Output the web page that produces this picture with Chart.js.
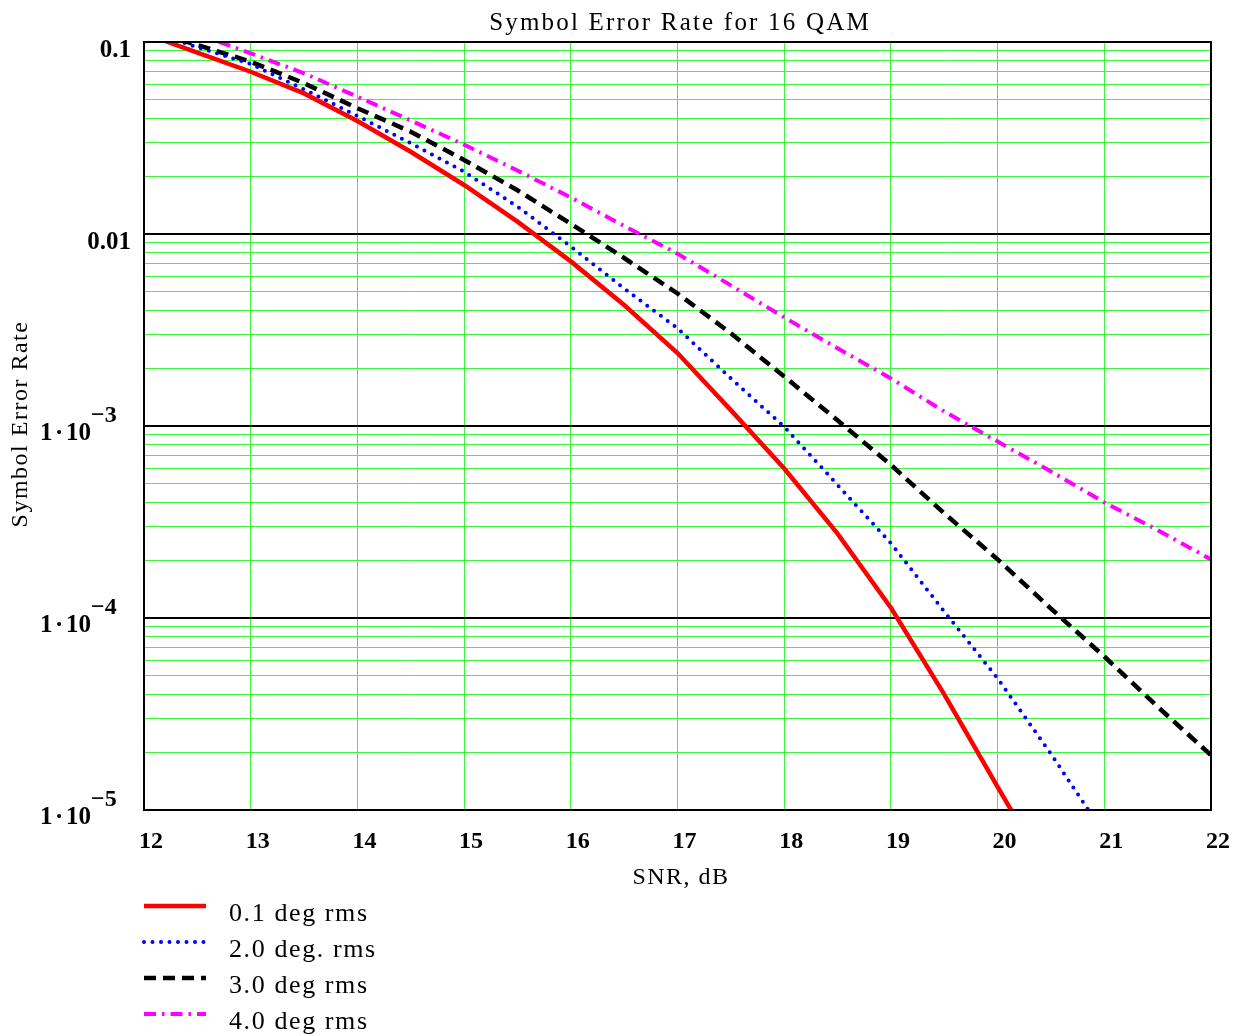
<!DOCTYPE html>
<html>
<head>
<meta charset="utf-8">
<title>Symbol Error Rate for 16 QAM</title>
<script src="https://cdn.jsdelivr.net/npm/chart.js@4.4.1/dist/chart.umd.min.js"></script>
<style>
  body { margin: 0; background: #fff; }
  canvas { display: block; }
</style>
</head>
<body>
<canvas id="serChart" width="1238" height="1036"></canvas>
<script>
// SNR sample points, dB
const snrDb = [12, 12.5, 13, 13.5, 14, 14.5, 15, 15.5, 16, 16.5, 17, 17.5, 18, 18.5, 19, 19.5, 20, 20.5, 21, 21.5, 22];

// symbol error rate for each phase noise level (same SNR order, shorter ones stop below the axis)
const ser01 = [0.111, 0.088, 0.070, 0.054, 0.0388, 0.0268, 0.0180, 0.0116, 0.0072, 0.00427, 0.0024, 0.00121, 6.0e-4, 2.75e-4, 1.13e-4, 4.0e-5, 1.32e-5, 4.4e-6];
const ser20 = [0.115, 0.094, 0.0768, 0.0567, 0.0412, 0.0297, 0.0211, 0.0139, 0.0086, 0.0052, 0.00323, 0.00177, 9.9e-4, 4.93e-4, 2.45e-4, 1.08e-4, 4.85e-5, 1.96e-5, 7.5e-6];
const ser30 = [0.117, 0.0965, 0.079, 0.061, 0.0452, 0.0341, 0.0243, 0.0169, 0.0113, 0.0075, 0.0049, 0.00304, 0.00181, 1.07e-3, 6.27e-4, 3.51e-4, 2.02e-4, 1.12e-4, 6.3e-5, 3.45e-5, 1.93e-5];
const ser40 = [0.138, 0.110, 0.0873, 0.0687, 0.0519, 0.0390, 0.0292, 0.0214, 0.0155, 0.0110, 0.0079, 0.0054, 0.00368, 0.00254, 0.00177, 0.00119, 8.3e-4, 5.8e-4, 4.0e-4, 2.87e-4, 2.02e-4];

const seriesNames = ['0.1 deg rms', '2.0 deg. rms', '3.0 deg rms', '4.0 deg rms'];

// axis ticks
const xTicks = [12, 13, 14, 15, 16, 17, 18, 19, 20, 21, 22];
const yDecades = [0.1, 0.01, 1e-3, 1e-4, 1e-5];
const yMantissa = ['0.1', '0.01', '1·10', '1·10', '1·10'];
const yExponent = ['', '', '−3', '−4', '−5'];

const serif = '"Liberation Serif", "Times New Roman", serif';
const green = '#3cf53c';

const toPoints = vals => vals.map((v, i) => ({ x: snrDb[i], y: v }));
const isDecade = v => Math.abs(Math.log10(v) - Math.round(Math.log10(v))) < 1e-6;

// decades plus 2..9 minor lines in between
function buildLogTicks(scale) {
  const ticks = [];
  yDecades.forEach(d => {
    ticks.push({ value: d });
    if (d < 0.1) {
      for (let m = 2; m <= 9; m++) ticks.push({ value: m * d });
    }
  });
  scale.ticks = ticks.sort((a, b) => a.value - b.value);
}

function withSpacing(ctx, px, fn) {
  const had = 'letterSpacing' in ctx;
  if (had) ctx.letterSpacing = px + 'px';
  fn();
  if (had) ctx.letterSpacing = '0px';
}

// frame, titles, tick labels and the legend block under the plot
const decorations = {
  id: 'decorations',
  afterDraw(chart) {
    const ctx = chart.ctx;
    const area = chart.chartArea;
    const xs = chart.scales.x;
    const ys = chart.scales.y;
    ctx.save();

    ctx.strokeStyle = '#000';
    ctx.lineWidth = 2;
    ctx.strokeRect(area.left, area.top, area.right - area.left, area.bottom - area.top);

    ctx.fillStyle = '#000';
    ctx.textBaseline = 'alphabetic';

    // title
    ctx.font = '25px ' + serif;
    ctx.textAlign = 'center';
    withSpacing(ctx, 2.2, () => ctx.fillText('Symbol Error Rate for 16 QAM', 680, 30));

    // axis titles
    ctx.font = '24px ' + serif;
    withSpacing(ctx, 1.5, () => ctx.fillText('SNR, dB', 681, 884));
    ctx.save();
    ctx.translate(27, 424);
    ctx.rotate(-Math.PI / 2);
    withSpacing(ctx, 1.5, () => ctx.fillText('Symbol Error Rate', 0, 0));
    ctx.restore();

    // x tick labels
    ctx.font = 'bold 24px ' + serif;
    ctx.textAlign = 'center';
    xTicks.forEach(v => ctx.fillText(String(v), xs.getPixelForValue(v) + 7, 848));

    // y tick labels
    yDecades.forEach((d, i) => {
      const y = ys.getPixelForValue(d);
      ctx.font = 'bold 25px ' + serif;
      if (!yExponent[i]) {
        ctx.textAlign = 'right';
        ctx.fillText(yMantissa[i], area.left - 13, y + 15);
      } else {
        ctx.textAlign = 'left';
        const x0 = area.left - 104;
        ctx.fillText('1', x0, y + 14);
        ctx.fillText('·', x0 + 15, y + 14);
        ctx.fillText('10', x0 + 26, y + 14);
        ctx.font = 'bold 24px ' + serif;
        ctx.fillText(yExponent[i], x0 + 51, y - 4);
      }
    });

    // legend
    chart.data.datasets.forEach((ds, i) => {
      const y = 906 + 36 * i;
      ctx.save();
      ctx.strokeStyle = ds.borderColor;
      ctx.lineWidth = ds.borderWidth;
      ctx.lineCap = ds.borderCapStyle || 'butt';
      ctx.setLineDash(ds.borderDash || []);
      ctx.beginPath();
      ctx.moveTo(144, y);
      ctx.lineTo(206, y);
      ctx.stroke();
      ctx.restore();
      ctx.font = '26px ' + serif;
      ctx.textAlign = 'left';
      withSpacing(ctx, 1.6, () => ctx.fillText(ds.label, 229, y + 15));
    });

    ctx.restore();
  }
};

const ctx = document.getElementById('serChart');
new Chart(ctx, {
  type: 'line',
  data: {
    datasets: [
      { label: seriesNames[0], data: toPoints(ser01), borderColor: '#ff0000', borderWidth: 4.5, clip: 0 },
      { label: seriesNames[1], data: toPoints(ser20), borderColor: '#0000ff', borderWidth: 4, borderDash: [0, 8.5], borderCapStyle: 'round', clip: 0 },
      { label: seriesNames[2], data: toPoints(ser30), borderColor: '#000000', borderWidth: 4.5, borderDash: [12, 7], clip: 0 },
      { label: seriesNames[3], data: toPoints(ser40), borderColor: '#ff00ff', borderWidth: 4, borderDash: [12, 6, 2.5, 6], clip: 0 }
    ]
  },
  options: {
    responsive: false,
    animation: false,
    layout: { padding: { top: 42, right: 27, left: 0, bottom: 0 } },
    elements: { point: { radius: 0 }, line: { tension: 0, fill: false } },
    plugins: { legend: { display: false }, tooltip: { enabled: false } },
    scales: {
      x: {
        type: 'linear',
        min: 12,
        max: 22,
        afterFit: s => { s.height = 226; },
        afterBuildTicks: s => { s.ticks = xTicks.map(v => ({ value: v })); },
        ticks: { display: false },
        grid: { color: green, lineWidth: 1, drawTicks: false },
        border: { display: false }
      },
      y: {
        type: 'logarithmic',
        min: 1e-5,
        max: 0.1,
        afterFit: s => { s.width = 144; },
        afterBuildTicks: buildLogTicks,
        ticks: { display: false },
        grid: {
          color: c => (c.tick && isDecade(c.tick.value)) ? '#000' : green,
          lineWidth: c => (c.tick && isDecade(c.tick.value)) ? 2 : 1,
          drawTicks: false
        },
        border: { display: false }
      }
    }
  },
  plugins: [decorations]
});
</script>
</body>
</html>
